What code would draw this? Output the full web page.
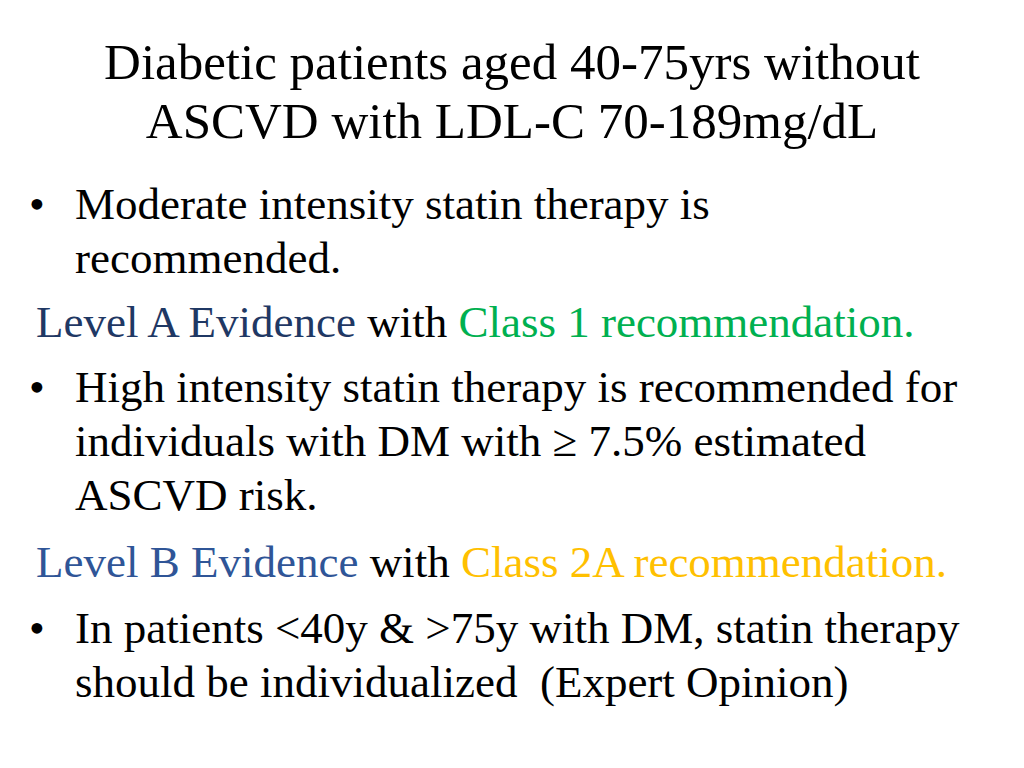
<!DOCTYPE html>
<html><head><meta charset="utf-8">
<script src="https://cdn.jsdelivr.net/npm/chart.js@4"></script>
<style>
body{margin:0;width:1024px;height:768px;background:#fff;font-family:"Liberation Serif","Times New Roman",serif;overflow:hidden;position:relative}
.l{position:absolute;white-space:pre;line-height:1}
.t{font-size:51px;width:1024px;text-align:center;left:0}
.b{font-size:45px}
</style></head><body>
<script>
// slide text, kept as plain lists
const titleLines = ["Diabetic patients aged 40-75yrs without", "ASCVD with LDL-C 70-189mg/dL"];
const titleBaselines = [82, 141];
// each line: [text parts], bullet?, baseline
const bodyLines = [
  [[["Moderate intensity statin therapy is", "#000"]], true, 222],
  [[["recommended.", "#000"]], false, 276],
  [[["Level A Evidence", "#1F3864"], [" with ", "#000"], ["Class 1 recommendation.", "#00B050"]], null, 340],
  [[["High intensity statin therapy is recommended for", "#000"]], true, 405],
  [[["individuals with DM with \u2265 7.5% estimated", "#000"]], false, 459],
  [[["ASCVD risk.", "#000"]], false, 513],
  [[["Level B Evidence", "#2F5597"], [" with ", "#000"], ["Class 2A recommendation.", "#FFC000"]], null, 580],
  [[["In patients <40y & >75y with DM, statin therapy", "#000"]], true, 646],
  [[["should be individualized  (Expert Opinion)", "#000"]], false, 700]
];

titleLines.forEach((txt, i) => {
  const d = document.createElement("div");
  d.className = "l t";
  d.textContent = txt;
  d.style.top = (titleBaselines[i] - 45) + "px";
  document.body.appendChild(d);
});

bodyLines.forEach(([parts, bullet, base]) => {
  const d = document.createElement("div");
  d.className = "l b";
  d.style.top = (base - 40) + "px";
  d.style.left = bullet === null ? "36px" : "75px";
  if (bullet) {
    const s = document.createElement("span");
    s.textContent = "\u2022";
    s.style.position = "absolute";
    s.style.left = "-46px";
    d.appendChild(s);
  }
  parts.forEach(([txt, col]) => {
    const s = document.createElement("span");
    s.textContent = txt;
    s.style.color = col;
    d.appendChild(s);
  });
  document.body.appendChild(d);
});
</script>
</body></html>
